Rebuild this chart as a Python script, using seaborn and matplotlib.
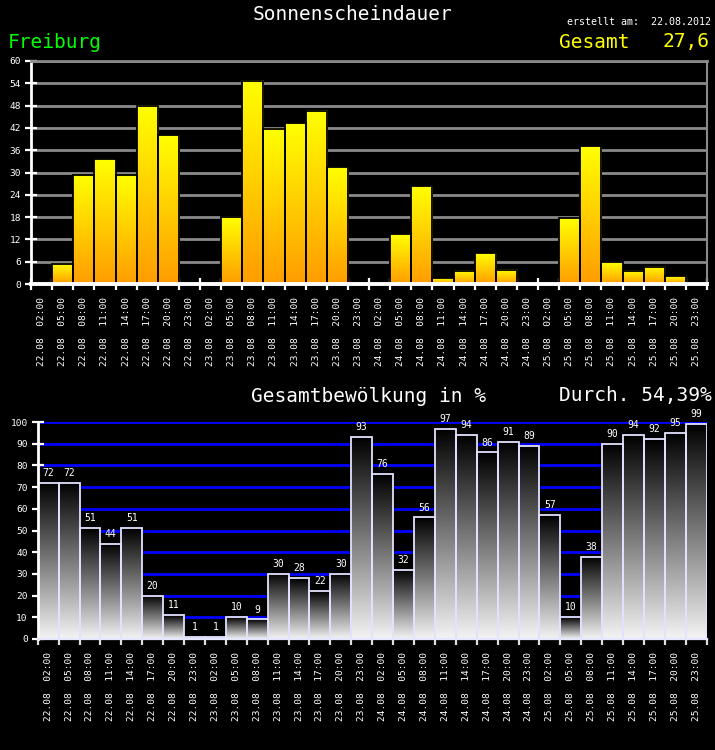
import numpy as np
import pandas as pd
import matplotlib
matplotlib.use("Agg")
import matplotlib.pyplot as plt
import seaborn as sns
from matplotlib.colors import LinearSegmentedColormap

# ---------------- data ----------------
days = ["22.08", "23.08", "24.08", "25.08"]
hours = ["02:00", "05:00", "08:00", "11:00", "14:00", "17:00", "20:00", "23:00"]
sun_minutes = [0, 5.4, 29.2, 33.5, 29.2, 48.0, 40.0, 0,
               0, 18.0, 54.7, 41.8, 43.2, 46.6, 31.4, 0,
               0, 13.4, 26.3, 1.6, 3.5, 8.3, 3.8, 0,
               0, 17.7, 37.0, 5.9, 3.5, 4.6, 2.1, 0]
cloud_pct = [72, 72, 51, 44, 51, 20, 11, 1,
             1, 10, 9, 30, 28, 22, 30, 93,
             76, 32, 56, 97, 94, 86, 91, 89,
             57, 10, 38, 90, 94, 92, 95, 99]
sun_yticks = [0, 6, 12, 18, 24, 30, 36, 42, 48, 54, 60]
cloud_yticks = [0, 10, 20, 30, 40, 50, 60, 70, 80, 90, 100]
city = "Freiburg"
created = "erstellt am:  22.08.2012"
sun_total = "27,6"
cloud_mean = "54,39%"

labels = [f"{d}  {h}" for d in days for h in hours]
df = pd.DataFrame({"label": labels, "sun": sun_minutes, "cloud": cloud_pct})

MONO = "DejaVu Sans Mono"
plt.rcParams["font.family"] = [MONO]

fig = plt.figure(figsize=(7.15, 7.5), dpi=100, facecolor="black")
W, H = 715, 750


def gradient_bars(ax, cmap, edgecolor, lw):
    grad = np.linspace(0, 1, 256).reshape(-1, 1)
    for p in list(ax.patches):
        x0, y0 = p.get_x(), p.get_y()
        w, h = p.get_width(), p.get_height()
        if h <= 0:
            p.set_visible(False)
            continue
        ax.imshow(grad, extent=[x0, x0 + w, y0, y0 + h], origin="lower",
                  cmap=cmap, aspect="auto", zorder=1, interpolation="bilinear")
        p.set_facecolor("none")
        p.set_edgecolor(edgecolor)
        p.set_linewidth(lw)
        p.set_zorder(1.2)


def style_axes(ax, ymax, yticks, gridcolor):
    ax.set_facecolor("black")
    ax.set_axisbelow(True)
    ax.set_xlim(-0.5, len(labels) - 0.5)
    ax.set_ylim(0, ymax)
    ax.set_xlabel("")
    ax.set_ylabel("")
    ax.set_yticks(yticks)
    ax.set_yticklabels([str(t) for t in yticks], color="white", fontsize=6.8, family=MONO)
    ax.tick_params(axis="y", direction="inout", length=8, width=1.6, color="white", pad=3.2)
    ax.yaxis.grid(True, color=gridcolor, linewidth=2)
    ax.xaxis.grid(False)
    ax.set_xticks(np.arange(-0.5, len(labels), 1.0))
    ax.set_xticklabels([])
    ax.set_xticks(np.arange(len(labels)), labels, minor=True)
    for t in ax.get_xticklabels(minor=True):
        t.set_rotation(90)
        t.set_color("white")
        t.set_fontsize(6.8)
        t.set_family(MONO)
    ax.tick_params(axis="x", which="minor", length=0, pad=9.4)


# ---------------- top chart: sunshine ----------------
ax1 = fig.add_axes([31 / W, 1 - 284 / H, 676 / W, 223 / H])
sns.barplot(data=df, x="label", y="sun", ax=ax1, width=1.0, color="#ffd000",
            saturation=1, errorbar=None)
cmap_sun = LinearSegmentedColormap.from_list("sun", ["#ff9c00", "#ffff00"])
gradient_bars(ax1, cmap_sun, "black", 1.3)
style_axes(ax1, 60, sun_yticks, "#8a8a8a")
ax1.tick_params(axis="x", which="major", direction="inout", length=9, width=1.6, color="white")
for s in ["left", "bottom"]:
    ax1.spines[s].set_color("white")
ax1.spines["left"].set_linewidth(2)
ax1.spines["bottom"].set_linewidth(2.8)
ax1.spines["top"].set_color("#8a8a8a")
ax1.spines["top"].set_linewidth(2)
ax1.spines["right"].set_color("#8a8a8a")
ax1.spines["right"].set_linewidth(1.5)

# ---------------- bottom chart: cloud cover ----------------
ax2 = fig.add_axes([37.7 / W, 1 - 639 / H, 669 / W, 217 / H])
sns.barplot(data=df, x="label", y="cloud", ax=ax2, width=1.0, color="#888888",
            saturation=1, errorbar=None)
cmap_cloud = LinearSegmentedColormap.from_list("cloud", ["#f4f4f4", "#000000"])
gradient_bars(ax2, cmap_cloud, "#e2e2ff", 1.3)
style_axes(ax2, 100, cloud_yticks, "#0000ff")
ax2.tick_params(axis="x", which="major", direction="out", length=4, width=1.6, color="#dddddd")
ax2.spines["left"].set_color("white")
ax2.spines["left"].set_linewidth(2)
ax2.spines["bottom"].set_color("#e6e6ff")
ax2.spines["bottom"].set_linewidth(1.6)
ax2.spines["top"].set_visible(False)
ax2.spines["right"].set_visible(False)
for i, v in enumerate(cloud_pct):
    ax2.annotate(str(v), (i, v), xytext=(0, 3.5), textcoords="offset points",
                 ha="center", va="bottom", color="white", fontsize=7,
                 family=MONO, annotation_clip=False, zorder=5)

# ---------------- texts ----------------
fig.text(353 / W, 1 - 15 / H, "Sonnenscheindauer", ha="center", va="center",
         color="white", fontsize=14, family=MONO)
fig.text(8 / W, 1 - 42 / H, city, ha="left", va="center",
         color="#00ff00", fontsize=14, family=MONO)
fig.text(711 / W, 1 - 22 / H, created, ha="right", va="center",
         color="white", fontsize=7.2, family=MONO)
fig.text(559 / W, 1 - 42 / H, "Gesamt", ha="left", va="center",
         color="#ffff00", fontsize=14, family=MONO)
fig.text(710 / W, 1 - 42 / H, sun_total, ha="right", va="center",
         color="#ffff00", fontsize=14, family=MONO)
fig.text(251 / W, 1 - 396 / H, "Gesamtbewölkung in %", ha="left", va="center",
         color="white", fontsize=14, family=MONO)
fig.text(712 / W, 1 - 396 / H, "Durch. " + cloud_mean, ha="right", va="center",
         color="white", fontsize=14, family=MONO)

fig.savefig("out.png", dpi=100, facecolor="black")
